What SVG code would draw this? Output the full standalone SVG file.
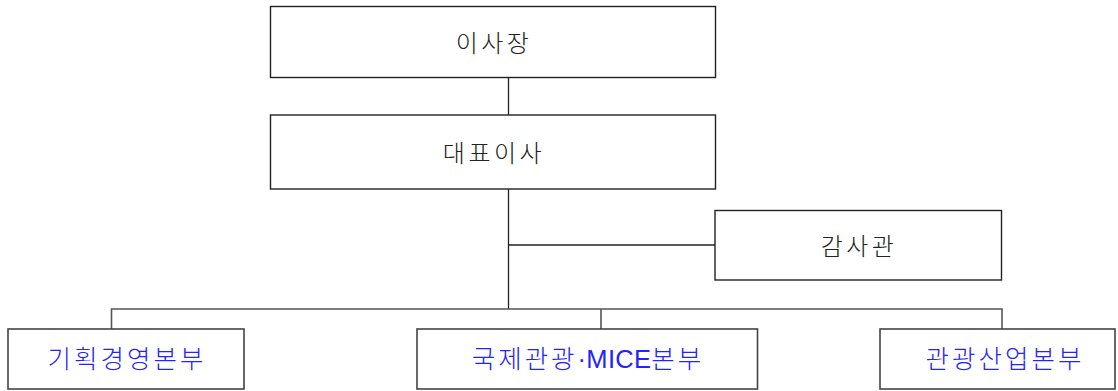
<svg xmlns="http://www.w3.org/2000/svg" width="1118" height="391" viewBox="0 0 1118 391">
<style>
.box{fill:#fff;stroke:#222;stroke-width:1.4}
.box2{fill:#fff;stroke:#444;stroke-width:1.6}
.t{font-family:"Liberation Sans","Noto Sans CJK KR",sans-serif;font-size:24px;font-weight:300;fill:#222;text-anchor:middle;dominant-baseline:central;letter-spacing:3.5px}
.b{font-family:"Liberation Sans","Noto Sans CJK KR",sans-serif;font-size:25.5px;font-weight:300;fill:#2323ff;text-anchor:middle;dominant-baseline:central;letter-spacing:3px}
.lat{letter-spacing:0.3px}
.c{fill:none;stroke:#222;stroke-width:1.3}
.c2{fill:none;stroke:#555;stroke-width:1.6}
</style>
<rect width="1118" height="391" fill="#fff"/>
<g id="connectors">
<line class="c" x1="508.5" y1="77.5" x2="508.5" y2="115"/>
<line class="c" x1="508.5" y1="189" x2="508.5" y2="309"/>
<line class="c" x1="508.5" y1="245" x2="715" y2="245"/>
<polyline class="c2" points="111.5,329 111.5,309 1002,309 1002,329"/>
<line class="c2" x1="601" y1="309" x2="601" y2="329"/>
</g>
<g id="n-chairman">
<rect class="box" x="270.5" y="6.5" width="445" height="71"/>
<text class="t" x="494" y="43">이사장</text>
</g>
<g id="n-ceo">
<rect class="box" x="270.5" y="115" width="445" height="74"/>
<text class="t" x="494" y="153">대표이사</text>
</g>
<g id="n-auditor">
<rect class="box" x="715" y="210.5" width="286.5" height="69.5"/>
<text class="t" x="859" y="246">감사관</text>
</g>
<g id="n-plan">
<rect class="box2" x="8" y="329" width="236" height="60"/>
<text class="b" x="127" y="359">기획경영본부</text>
</g>
<g id="n-intl">
<rect class="box2" x="417" y="329" width="340.5" height="60"/>
<text class="b" x="588" y="359">국제관광<tspan class="lat">·MICE</tspan>본부</text>
</g>
<g id="n-industry">
<rect class="box2" x="880" y="329" width="235" height="60"/>
<text class="b" x="1005" y="359">관광산업본부</text>
</g>
</svg>
